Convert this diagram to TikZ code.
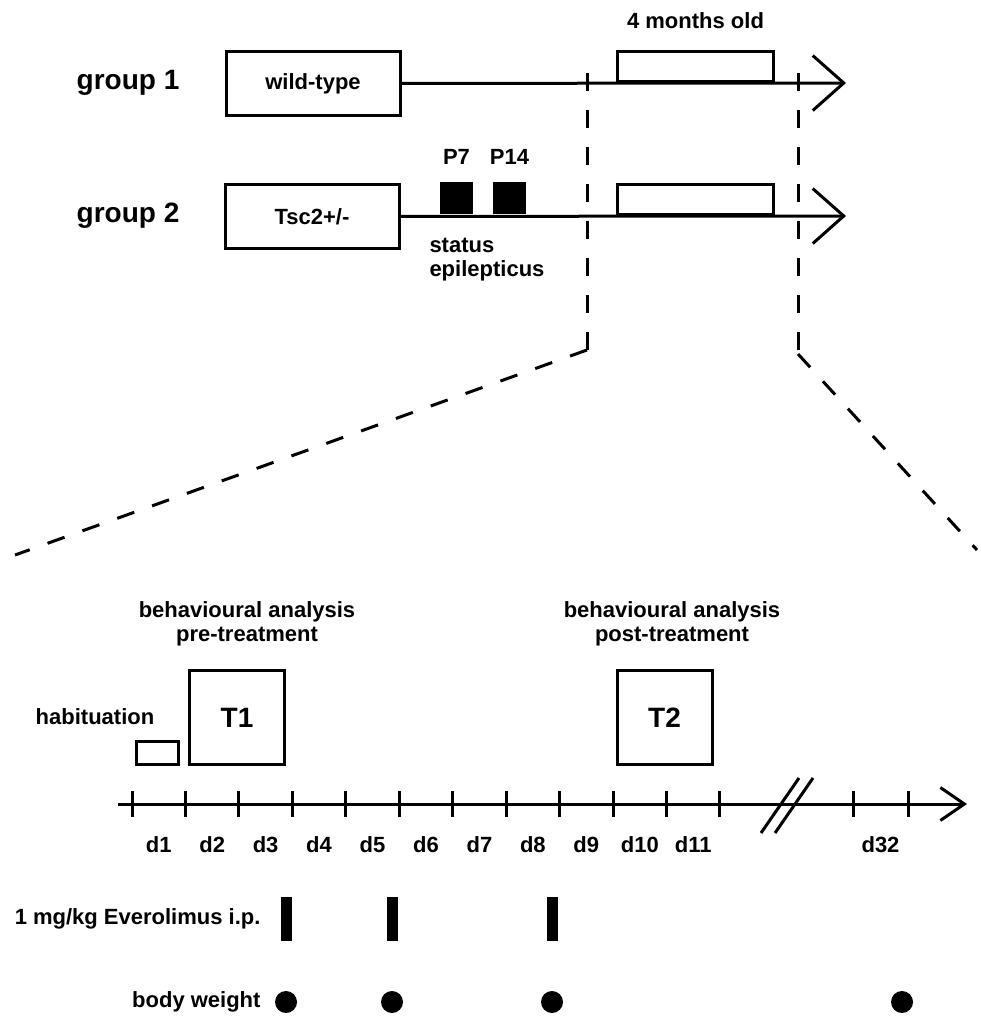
\documentclass[tikz,border=0pt]{standalone}
\usepackage{fontspec}
\setmainfont{Liberation Sans}
\usetikzlibrary{positioning, calc, arrows.meta}
\tikzset{lbl/.style={font=\bfseries\fontsize{22}{24}\selectfont, inner sep=0pt, align=center}}
\tikzset{grouplabel/.style={font=\bfseries\fontsize{28}{30}\selectfont, inner sep=0pt}}
\tikzset{genobox/.style={draw, lbl, minimum width=174pt, minimum height=64pt}}
\tikzset{agebox/.style={draw, minimum width=156pt, minimum height=30pt, inner sep=0pt}}
\tikzset{seizure/.style={fill=black, minimum width=33pt, minimum height=32pt, inner sep=0pt}}
\tikzset{testbox/.style={draw, minimum width=95pt, minimum height=94pt, inner sep=0pt, font=\bfseries\fontsize{28}{30}\selectfont}}
\tikzset{timeline/.style={-{Straight Barb[length=31pt, width=55pt]}}}
\tikzset{zoomline/.style={dash pattern=on 18pt off 19pt}}
\tikzset{dose/.style={fill=black, minimum width=11pt, minimum height=44pt, inner sep=0pt}}
\tikzset{weigh/.style={circle, fill=black, minimum size=22pt, inner sep=0pt}}

\begin{document}
\begin{tikzpicture}[x=1pt, y=-1pt, line width=3pt]
      \useasboundingbox (0,0) rectangle (980,1016);

      % group 1
      \node[grouplabel] (g1) at (128,83) {group 1};
      \node[genobox] (wt) at (313,83.5) {wild-type};
      \coordinate (end1) at (846,83);
      \node[agebox, anchor=south] (age1) at (695.5,83) {};
      \node[lbl] at ($(age1.north)+(0,-29)$) {4 months old};
      \draw[timeline] (wt) -- (end1);

      % group 2
      \node[grouplabel] (g2) at (128,216) {group 2};
      \node[genobox] (tsc) at (312,216.5) {Tsc2+/-};
      \coordinate (end2) at (846,216);
      \node[agebox, anchor=south] (age2) at (695.5,216) {};
      \node[seizure, anchor=south] (p7) at (456.5,216) {};
      \node[seizure, anchor=south] (p14) at (509.5,216) {};
      \node[lbl] at ($(p7.north)+(0,-24)$) {P7};
      \node[lbl] at ($(p14.north)+(0,-24)$) {P14};
      \node[lbl, anchor=north west, align=left] (se) at (428,237) {status\\epilepticus};
      \draw[timeline] (tsc) -- (end2);

      % zoom in on the 4 months window
      \coordinate (zl0) at (587,73);
      \coordinate (zl1) at (587,350);
      \coordinate (zl2) at (15,555);
      \coordinate (zr0) at (798,73);
      \coordinate (zr1) at (798,350);
      \coordinate (zr2) at (977,550);
      \draw[zoomline] (zl0) -- (zl1);
      \draw[zoomline] (zl1) -- (zl2);
      \draw[zoomline] (zr0) -- (zr1);
      \draw[zoomline] ($(zr1)+(0,4)$) -- (zr2);

      % day axis
      \coordinate (ax0) at (118,804);
      \coordinate (ax1) at (967,804);
      \draw[-{Straight Barb[length=24pt, width=33pt]}] (ax0) -- (ax1);
      \foreach \i in {0,...,11}
        \coordinate (t\i) at ({132+53.45*\i},804);
      \coordinate (t12) at (853,804);
      \coordinate (t13) at (908,804);
      \foreach \i in {0,...,13}
        \draw ($(t\i)+(0,-13)$) -- ($(t\i)+(0,13)$);
      \foreach \d [count=\i from 0] in {1,...,11} {
        \pgfmathtruncatemacro\j{\i+1}
        \node[lbl] at ($(t\i)!.5!(t\j)+(0,41)$) {d\d};
      }
      \node[lbl] at ($(t12)!.5!(t13)+(0,41)$) {d32};
      \draw (761,833) -- (799,778);
      \draw (775,833) -- (813,778);

      % behavioural tests
      \node[draw, minimum width=42pt, minimum height=23pt, inner sep=0pt] (hab) at (157.5,753) {};
      \node[lbl] at (95,717) {habituation};
      \node[testbox] (T1) at (237,717.5) {T1};
      \node[testbox] (T2) at (664.5,717.5) {T2};
      \node[lbl] at (247,624) {behavioural analysis\\pre-treatment};
      \node[lbl] at (672,624) {behavioural analysis\\post-treatment};

      % treatment and weighing
      \node[lbl, anchor=east] (drug) at (262,919) {1 mg/kg Everolimus i.p.};
      \node[dose] (dose1) at (286,919) {};
      \node[dose] (dose2) at (392,919) {};
      \node[dose] (dose3) at (552,919) {};
      \node[lbl, anchor=east] (bw) at (262,1002) {body weight};
      \node[weigh] (w1) at (dose1 |- bw.east) {};
      \node[weigh] (w2) at (dose2 |- bw.east) {};
      \node[weigh] (w3) at (dose3 |- bw.east) {};
      \node[weigh] (w4) at (902,1002) {};
    \end{tikzpicture}
\end{document}
